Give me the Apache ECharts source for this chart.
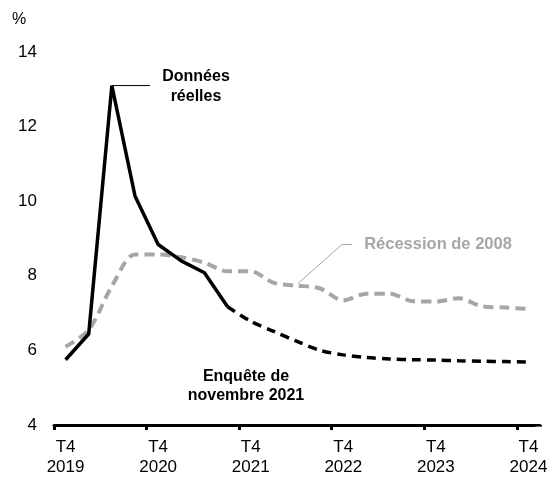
<!DOCTYPE html>
<html>
<head>
<meta charset="utf-8">
<script src="https://cdn.jsdelivr.net/npm/echarts@6/dist/echarts.min.js"></script>
<style>
  html, body { margin: 0; padding: 0; background: #fff; }
  #main { width: 553px; height: 479px; }
</style>
</head>
<body>
<div id="main"></div>
<script>
// trimestres, de T4 2019 à T4 2024
var quarters = [
  "T4 2019", "T1 2020", "T2 2020", "T3 2020", "T4 2020",
  "T1 2021", "T2 2021", "T3 2021", "T4 2021",
  "T1 2022", "T2 2022", "T3 2022", "T4 2022",
  "T1 2023", "T2 2023", "T3 2023", "T4 2023",
  "T1 2024", "T2 2024", "T3 2024", "T4 2024"
];
// données réelles (taux de chômage, %)
var reelles = [5.75, 6.44, 13.1, 10.14, 8.84, 8.4, 8.08, 7.17,
  null, null, null, null, null, null, null, null, null, null, null, null, null];
// enquête de novembre 2021
var enquete = [null, null, null, null, null, null, null, 7.17, 6.78, 6.51, 6.24, 6.0,
  5.88, 5.81, 5.77, 5.75, 5.74, 5.72, 5.71, 5.70, 5.69];
// récession de 2008
var recession = [6.1, 6.55, 7.72, 8.57, 8.57, 8.5, 8.35, 8.12, 8.12, 7.81, 7.74,
  7.66, 7.34, 7.52, 7.52, 7.32, 7.31, 7.4, 7.18, 7.15, 7.11];
var yTicks = [4, 6, 8, 10, 12, 14];

var font = "Liberation Sans, Arial, sans-serif";
var gris = "#a6a6a6";

var myChart = echarts.init(document.getElementById("main"));
myChart.setOption({
  animation: false,
  grid: { left: 54, right: 13, top: 52, bottom: 54 },
  xAxis: {
    type: "category",
    data: quarters,
    boundaryGap: true,
    axisLine: { show: true, lineStyle: { color: "#000", width: 3 } },
    axisTick: { show: true, interval: 3, length: 5, lineStyle: { color: "#000", width: 3 } },
    axisLabel: {
      interval: 3,
      margin: 12,
      color: "#000",
      fontFamily: font,
      fontSize: 17,
      lineHeight: 20,
      formatter: function (v) { return v.replace(" ", "\n"); }
    },
    splitLine: { show: false }
  },
  yAxis: {
    type: "value",
    min: yTicks[0],
    max: yTicks[yTicks.length - 1],
    interval: 2,
    axisLine: { show: false },
    axisTick: { show: false },
    splitLine: { show: false },
    axisLabel: { margin: 17, color: "#000", fontFamily: font, fontSize: 17 }
  },
  series: [
    {
      name: "Récession de 2008",
      type: "line",
      data: recession,
      smooth: 0.3,
      symbol: "none",
      lineStyle: { color: gris, width: 4, type: [10, 6] }
    },
    {
      name: "Enquête de novembre 2021",
      type: "line",
      data: enquete,
      smooth: 0.3,
      symbol: "none",
      lineStyle: { color: "#000", width: 3.5, type: [9, 6] }
    },
    {
      name: "Données réelles",
      type: "line",
      data: reelles,
      symbol: "none",
      lineStyle: { color: "#000", width: 3.5 }
    }
  ]
});

// annotations
var pic = myChart.convertToPixel({ gridIndex: 0 }, [2, reelles[2]]);
var rec = myChart.convertToPixel({ gridIndex: 0 }, [10, recession[10]]);
var bas = myChart.convertToPixel({ gridIndex: 0 }, [20, yTicks[0]]);
myChart.setOption({
  graphic: [
    { type: "text", left: 12, top: 12,
      style: { text: "%", fill: "#000", font: "16px " + font } },
    { type: "line", shape: { x1: pic[0], y1: pic[1], x2: 150, y2: pic[1] },
      style: { stroke: "#000", lineWidth: 1 } },
    { type: "text", x: 196, y: 87,
      style: { text: "Données\nréelles", fill: "#000", font: "bold 16px " + font,
        align: "center", verticalAlign: "middle", lineHeight: 20 } },
    { type: "text", x: 246, y: 386,
      style: { text: "Enquête de\nnovembre 2021", fill: "#000", font: "bold 16px " + font,
        align: "center", verticalAlign: "middle", lineHeight: 19 } },
    { type: "polyline",
      shape: { points: [[rec[0] + 1, rec[1] - 2], [rec[0] + 45, rec[1] - 41], [rec[0] + 55, rec[1] - 41]] },
      style: { stroke: gris, lineWidth: 1, fill: null } },
    { type: "text", x: 438, y: 244,
      style: { text: "Récession de 2008", fill: gris, font: "bold 16.5px " + font,
        align: "center", verticalAlign: "middle" } },
    // masque la graduation ajoutée en bout d'axe
    { type: "rect", z: 100,
      shape: { x: bas[0] + 7, y: bas[1] + 1.6, width: 12, height: 8 },
      style: { fill: "#fff" } }
  ]
});
</script>
</body>
</html>
